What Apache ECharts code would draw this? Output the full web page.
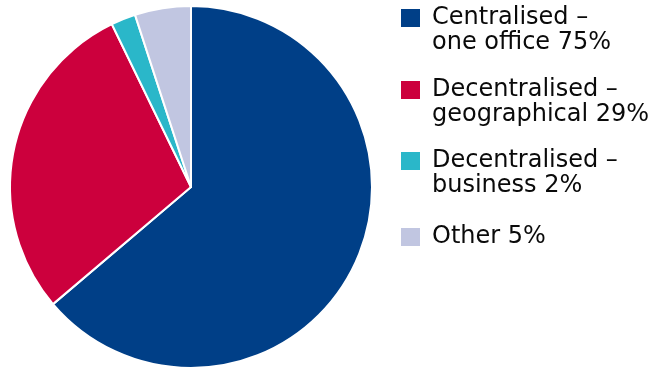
<!DOCTYPE html>
<html>
<head>
<meta charset="utf-8">
<script src="https://cdn.jsdelivr.net/npm/echarts@6/dist/echarts.min.js"></script>
<style>
html,body{margin:0;padding:0;background:#fff;}
#chart{width:665px;height:377px;}
</style>
</head>
<body>
<div id="chart"></div>
<script>
const categories = [
  'Centralised –\none office 75%',
  'Decentralised –\ngeographical 29%',
  'Decentralised –\nbusiness 2%',
  'Other 5%'
];
// slice sizes as drawn in the picture (share of the circle, %)
const values = [63.8, 29.0, 2.2, 5.0];
const colors = ['#003f87', '#cc003d', '#2ab7c9', '#c1c6e1'];

const chart = echarts.init(document.getElementById('chart'), null, {renderer: 'canvas'});

const L = 25;
const legendTops = [-19.5, 52.5, 123.5, 224.5];
const legends = categories.map((name, i) => {
  const twoLine = name.indexOf('\n') >= 0;
  return {
    orient: 'vertical',
    left: 399,
    top: legendTops[i],
    padding: 0,
    itemWidth: 21,
    itemHeight: 20,
    icon: 'rect',
    selectedMode: false,
    data: [name],
    formatter: n => (twoLine ? ' \n' + n : n),
    textStyle: {
      fontFamily: 'DejaVu Sans',
      fontSize: 24,
      lineHeight: L,
      color: '#0a0a0a',
      padding: [0, 0, 0, 6]
    }
  };
});

chart.setOption({
  animation: false,
  color: colors,
  legend: legends,
  series: [{
    type: 'pie',
    center: [191, 187],
    radius: 181,
    startAngle: 90,
    clockwise: true,
    label: {show: false},
    labelLine: {show: false},
    itemStyle: {borderColor: '#fff', borderWidth: 2},
    emphasis: {disabled: true},
    data: categories.map((n, i) => ({name: n, value: values[i]}))
  }]
});
</script>
</body>
</html>
